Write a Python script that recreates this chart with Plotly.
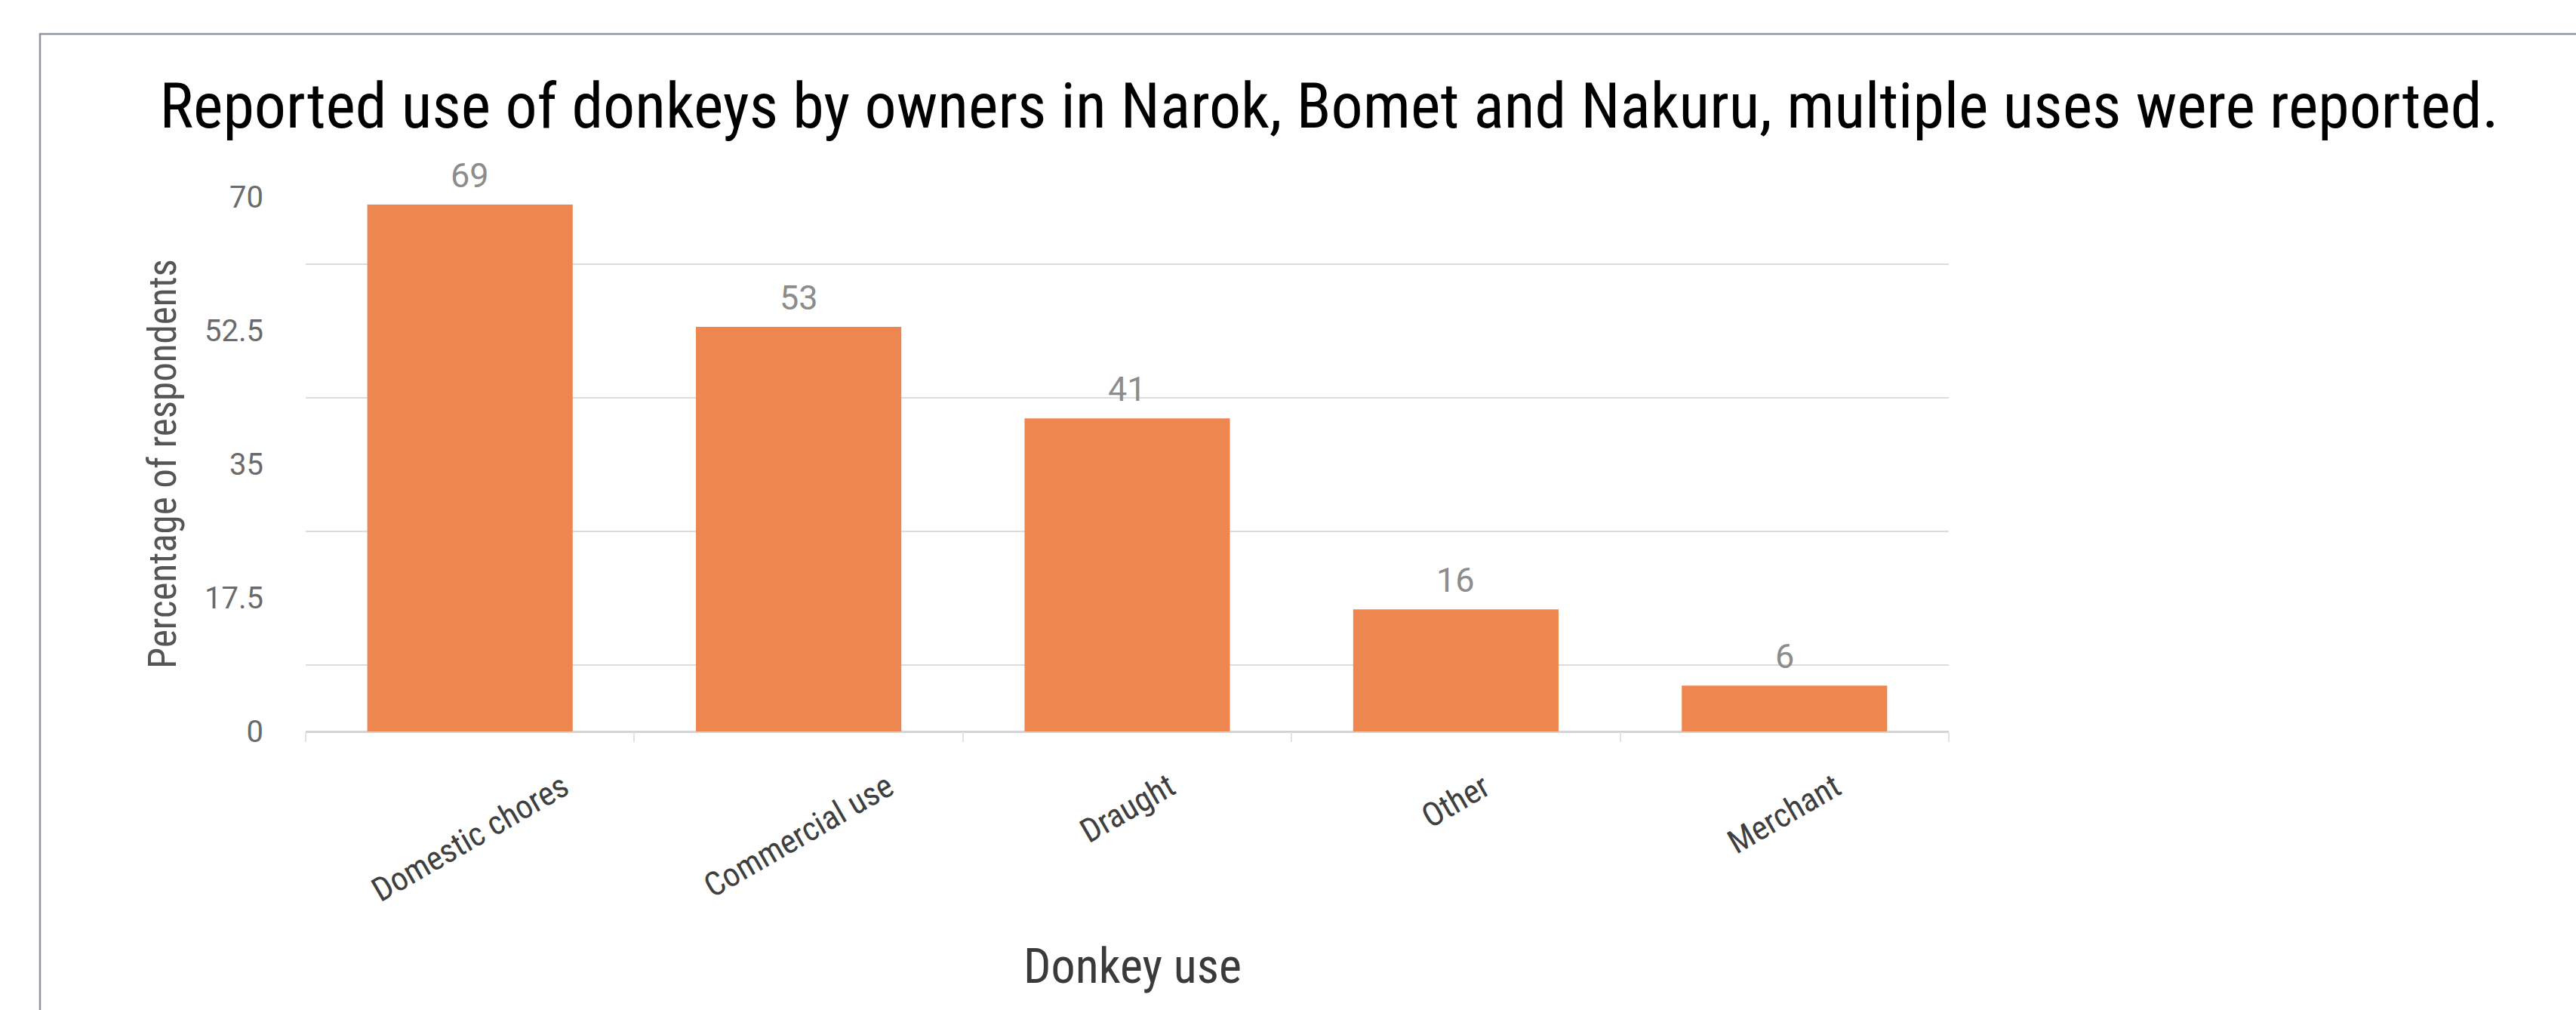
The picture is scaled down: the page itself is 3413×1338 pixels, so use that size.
import plotly.graph_objects as go

# ---- data ----
categories = ["Domestic chores", "Commercial use", "Draught", "Other", "Merchant"]
values = [69, 53, 41, 16, 6]
y_tick_vals = [0, 17.5, 35, 52.5, 70]
y_tick_text = ["0", "17.5", "35", "52.5", "70"]
title_text = "Reported use of donkeys by owners in Narok, Bomet and Nakuru, multiple uses were reported."
x_title = "Donkey use"
y_title = "Percentage of respondents"

W, H = 3413, 1338
L, R, T, B = 405, 831, 261, 369
plot_w = W - L - R
plot_h = H - T - B

def px_to_paper_x(px):
    return (px - L) / plot_w

def px_to_paper_y(py):
    return (H - B - py) / plot_h

NARROW = "Roboto Condensed, DejaVu Sans Condensed, sans-serif"
DIGITS = "Roboto, Arial, sans-serif"

grid_vals = [(a + b) / 2 for a, b in zip(y_tick_vals[:-1], y_tick_vals[1:])]

fig = go.Figure()
fig.add_trace(go.Bar(
    x=categories, y=values,
    marker=dict(color="#EE8650", line=dict(width=0)),
    hoverinfo="x+y",
))

annotations = []
# value labels above bars
for c, v in zip(categories, values):
    annotations.append(dict(
        x=c, y=v, xref="x", yref="y", text=str(v), showarrow=False,
        yanchor="bottom", xanchor="center", yshift=10,
        font=dict(family=DIGITS, size=45, color="#8c8c8c"),
    ))
# rotated category labels, centred under each bar
for c in categories:
    annotations.append(dict(
        x=c, y=px_to_paper_y(1012), xref="paper" if False else "x", yref="paper", text=c, showarrow=False,
        textangle=-30, xanchor="center", yanchor="top",
        font=dict(family=NARROW, size=44, color="#3f3f3f"),
    ))
# axis titles
annotations.append(dict(
    x=0.503, y=px_to_paper_y(1280), xref="paper", yref="paper", text=x_title,
    showarrow=False, xanchor="center", yanchor="middle",
    font=dict(family=NARROW, size=64, color="#3a3a3a"),
))
annotations.append(dict(
    x=px_to_paper_x(215), y=0.5, xref="paper", yref="paper", text=y_title,
    showarrow=False, xanchor="center", yanchor="middle", textangle=-90,
    font=dict(family=NARROW, size=51, color="#555555"),
))

fig.update_layout(
    width=W, height=H,
    margin=dict(l=L, r=R, t=T, b=B, autoexpand=False),
    paper_bgcolor="white", plot_bgcolor="white",
    showlegend=False,
    bargap=0.375,
    title=dict(
        text=title_text, x=1761 / W, xanchor="center", xref="container",
        y=1 - 140 / H, yref="container", yanchor="middle",
        font=dict(family=NARROW, size=84, color="#000000"),
    ),
    annotations=annotations,
    shapes=[dict(
        type="path", xref="paper", yref="paper",
        path=f"M {px_to_paper_x(W + 20)} {px_to_paper_y(45)} L {px_to_paper_x(53)} {px_to_paper_y(45)} L {px_to_paper_x(53)} {px_to_paper_y(H + 20)}",
        line=dict(color="#8f959d", width=2.5), layer="above",
    )],
)

fig.update_xaxes(
    type="category", range=[-0.5, len(categories) - 0.5],
    showticklabels=False, showgrid=False, showline=False, zeroline=False,
    ticks="outside", tickson="boundaries", ticklen=13, tickcolor="#e2e2e2", tickwidth=2,
)
fig.update_yaxes(
    range=[0, 70], tickmode="array", tickvals=y_tick_vals, ticktext=y_tick_text,
    showgrid=False, zeroline=True, zerolinecolor="#d4d4d4", zerolinewidth=3,
    showline=False,
    ticks="outside", ticklen=47, tickcolor="rgba(0,0,0,0)",
    tickfont=dict(family=DIGITS, size=40, color="#6b6b6b"),
    minor=dict(tickvals=grid_vals, showgrid=True, gridcolor="#dcdcdc", gridwidth=2, ticks=""),
)

fig.write_html("out.html")
